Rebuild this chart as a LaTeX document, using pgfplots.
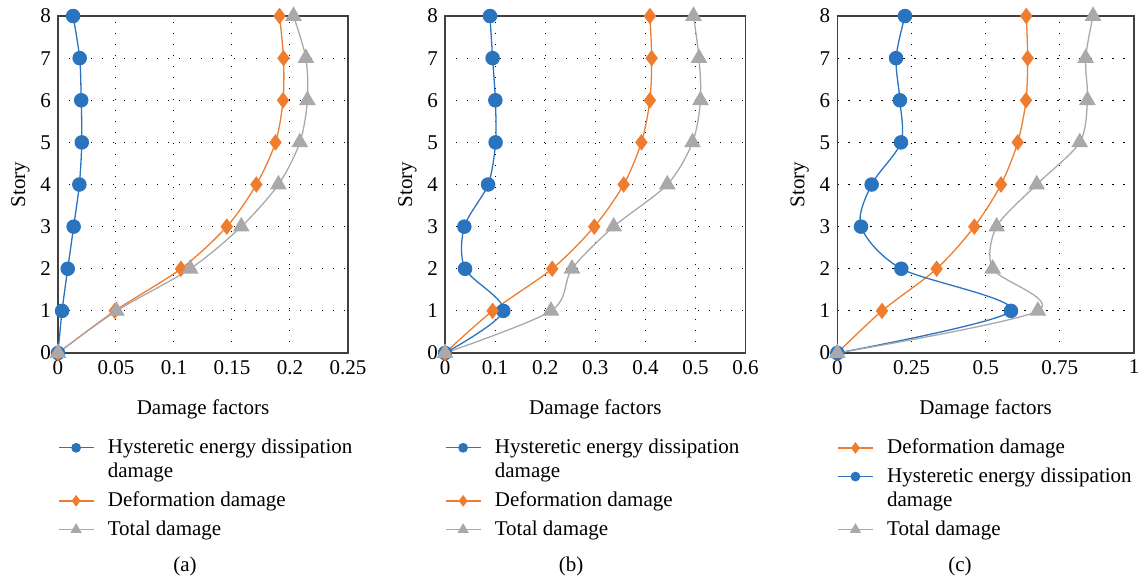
\documentclass[border=0pt]{standalone}
\usepackage{fontspec}
\setmainfont{Liberation Serif}
\usepackage{pgfplots}
\pgfplotsset{compat=1.18}
\definecolor{cblue}{HTML}{2A73BE}
\definecolor{corange}{HTML}{EF7D2F}
\definecolor{cgray}{HTML}{A9A9AB}
\definecolor{caxis}{HTML}{404040}
\pgfplotsset{
  damage/.style={
    scale only axis,
    height=168.5pt,
    ymin=0, ymax=8, ytick={0,1,...,8},
    xmin=0,
    axis line style={caxis, line width=0.6pt},
    major tick length=0pt,
    grid=major,
    grid style={black, line width=0.5pt, dash pattern=on 0.6pt off 4.9pt},
    tick label style={font=\fontsize{10.5}{12}\selectfont, text=black},
    label style={font=\fontsize{10.5}{12}\selectfont},
    /pgf/number format/assume math mode=true,
    xlabel={Damage factors},
    ylabel={Story},
    xlabel style={yshift=-6pt},
    ylabel style={yshift=-1.5pt},
    legend style={draw=none, fill=none, font=\fontsize{10.5}{12.2}\selectfont,
      at={(0.0,-0.254)}, anchor=north west, row sep=5.5pt,
      inner sep=0pt,
      nodes={inner xsep=7pt, inner ysep=0pt},
      cells={align=left}},
    legend cell align=left,
    every axis plot/.append style={line width=0.65pt, smooth, tension=0.5},
  },
  hb/.style={cblue, mark=*, mark size=3.3pt, mark options={solid, fill=cblue, draw=cblue},
    legend image post style={mark size=2.1pt, yshift=6.1pt}},
  dd/.style={corange, mark=diamond*, mark size=3.6pt, mark options={solid, fill=corange, draw=corange},
    legend image post style={mark size=2.4pt}},
  td/.style={cgray, mark=triangle*, mark size=4.2pt, mark options={solid, fill=cgray, draw=cgray},
    legend image post style={mark size=2.6pt}},
}
\begin{document}
\begin{tikzpicture}
\path[use as bounding box] (0,0) rectangle (572pt,293pt);
% (a)
\begin{axis}[damage, at={(29pt,116.5pt)}, anchor=south west, width=145pt,
  xmax=0.25, xtick={0,0.05,0.1,0.15,0.2,0.25},
  xticklabels={0,0.05,0.1,0.15,0.2,0.25}]
\addplot[hb] coordinates {(0,0) (0.0035,1) (0.0084,2) (0.0135,3) (0.0184,4) (0.0205,5) (0.0200,6) (0.0187,7) (0.0130,8)};
\addlegendentry{Hysteretic energy dissipation\\damage}
\addplot[dd] coordinates {(0,0) (0.049,1) (0.106,2) (0.1455,3) (0.171,4) (0.1875,5) (0.194,6) (0.1944,7) (0.191,8)};
\addlegendentry{Deformation damage}
\addplot[td] coordinates {(0,0) (0.0504,1) (0.114,2) (0.158,3) (0.190,4) (0.2085,5) (0.215,6) (0.2137,7) (0.203,8)};
\addlegendentry{Total damage}
\end{axis}
% (b)
\begin{axis}[damage, at={(222.5pt,116.5pt)}, anchor=south west, width=150.3pt,
  xmax=0.6, xtick={0,0.1,...,0.6},
  xticklabels={0,0.1,0.2,0.3,0.4,0.5,0.6}]
\addplot[hb] coordinates {(0,0) (0.1164,1) (0.040,2) (0.0386,3) (0.086,4) (0.101,5) (0.1005,6) (0.095,7) (0.0898,8)};
\addlegendentry{Hysteretic energy dissipation\\damage}
\addplot[dd] coordinates {(0,0) (0.095,1) (0.214,2) (0.298,3) (0.3566,4) (0.392,5) (0.409,6) (0.4125,7) (0.409,8)};
\addlegendentry{Deformation damage}
\addplot[td] coordinates {(0,0) (0.2116,1) (0.2535,2) (0.3367,3) (0.4437,4) (0.494,5) (0.510,6) (0.507,7) (0.496,8)};
\addlegendentry{Total damage}
\end{axis}
% (c)
\begin{axis}[damage, at={(418.65pt,116.5pt)}, anchor=south west, width=148.35pt,
  xmax=1, xtick={0,0.25,0.5,0.75,1},
  xticklabels={0,0.25,0.5,0.75,1}]
\addplot[dd] coordinates {(0,0) (0.1506,1) (0.3348,2) (0.4618,3) (0.5517,4) (0.608,5) (0.636,6) (0.6416,7) (0.637,8)};
\addlegendentry{Deformation damage}
\addplot[hb] coordinates {(0,0) (0.5854,1) (0.2157,2) (0.0798,3) (0.1157,4) (0.2146,5) (0.211,6) (0.198,7) (0.228,8)};
\addlegendentry{Hysteretic energy dissipation\\damage}
\addplot[td] coordinates {(0,0) (0.676,1) (0.5236,2) (0.537,3) (0.672,4) (0.817,5) (0.843,6) (0.837,7) (0.862,8)};
\addlegendentry{Total damage}
\end{axis}
\node[font=\fontsize{10.5}{12}\selectfont] at (92.5pt,10pt) {(a)};
\node[font=\fontsize{10.5}{12}\selectfont] at (285.5pt,10pt) {(b)};
\node[font=\fontsize{10.5}{12}\selectfont] at (480pt,10pt) {(c)};
\end{tikzpicture}
\end{document}
